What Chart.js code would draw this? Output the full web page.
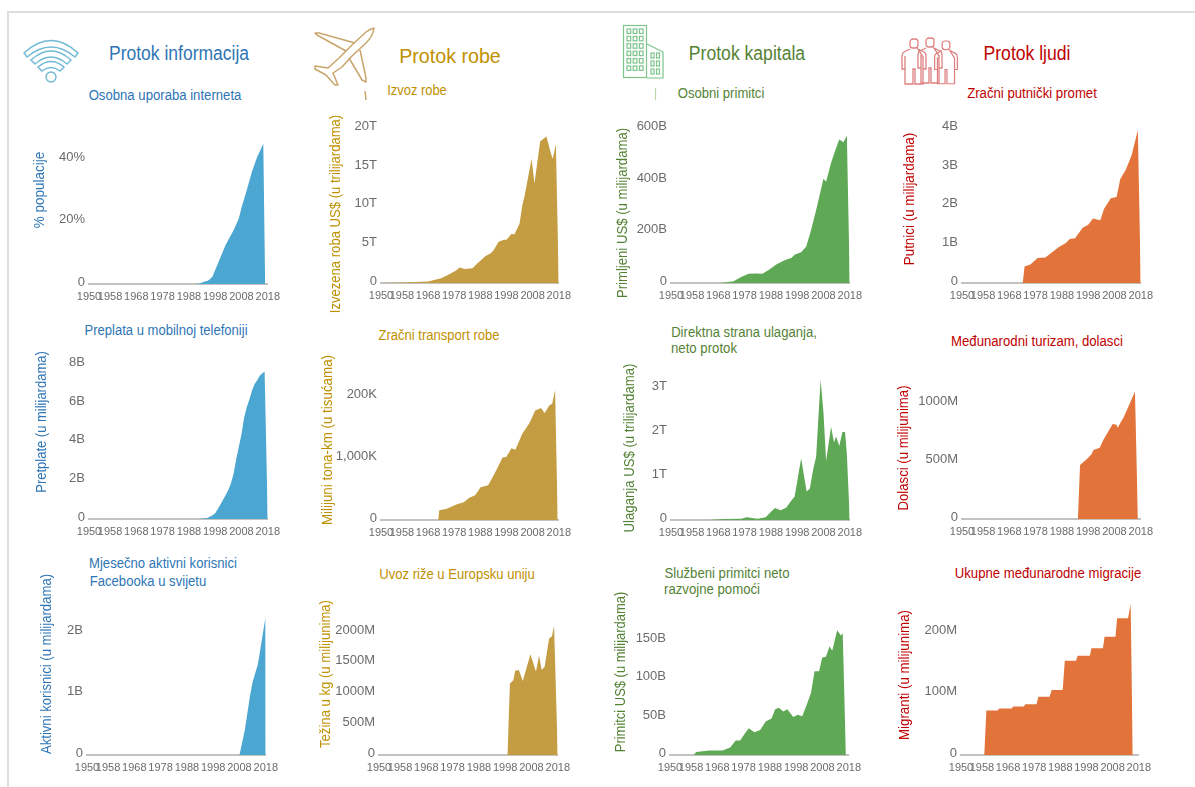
<!DOCTYPE html>
<html>
<head>
<meta charset="utf-8">
<script src="https://cdn.jsdelivr.net/npm/chart.js@4"></script>
<style>
  html, body { margin: 0; padding: 0; background: #fff; }
  #page { position: relative; width: 1195px; height: 787px; overflow: hidden; }
  #page canvas { position: absolute; }
  #frame { position: absolute; left: 7px; top: 11px; width: 1195px; height: 800px; border: 2px solid #dedede; box-sizing: border-box; }
  #icons { position: absolute; left: 0; top: 0; }
  .lbl { position: absolute; white-space: nowrap; font-family: "Liberation Sans", sans-serif; line-height: 1; }
</style>
</head>
<body>
<div id="page">
  <div id="frame"></div>
  <svg id="icons" width="1195" height="787" fill="none"></svg>
</div>
<script>
// === DATA ===
const xTickYears = [1950, 1958, 1968, 1978, 1988, 1998, 2008, 2018];

const internetYears = [1950, 1990, 1992, 1994, 1995, 1996, 1997, 1998, 2000, 2002, 2004, 2005, 2007, 2008, 2010, 2012, 2014, 2015, 2016.3, 2017];
const internetValues = [0, 0, 0.2, 0.8, 1, 1.5, 2.4, 4.5, 8.5, 12.6, 15.7, 17.2, 21, 24.4, 30, 36, 40.7, 42.5, 45, 0];
const internetTicks = [0, 20, 40];
const internetLabels = ["0", "20%", "40%"];

const mobileYears = [1950, 1992, 1995, 1997, 1998, 2000, 2002, 2003, 2004, 2005, 2006, 2007, 2008, 2009, 2010, 2011, 2012, 2013, 2014, 2015, 2016.8, 2018];
const mobileValues = [0, 0, 0.05, 0.2, 0.3, 0.75, 1.25, 1.5, 1.85, 2.35, 3.1, 3.75, 4.4, 5.25, 5.8, 6.2, 6.65, 7, 7.2, 7.45, 7.65, 0];
const mobileTicks = [0, 2, 4, 6, 8];
const mobileLabels = ["0", "2B", "4B", "6B", "8B"];

const facebookYears = [1950, 2008, 2010, 2012, 2013, 2015, 2016, 2017.9, 2018];
const facebookValues = [0, 0, 0.4, 0.96, 1.19, 1.48, 1.74, 2.25, 0];
const facebookTicks = [0, 1, 2];
const facebookLabels = ["0", "1B", "2B"];

const exportYears = [1950, 1958, 1968, 1973, 1975, 1977, 1979, 1980, 1982, 1985, 1987, 1988, 1990, 1992, 1993, 1995, 1997, 1998, 2000, 2001, 2003, 2004, 2005, 2007.6, 2008.7, 2010.9, 2013.3, 2015, 2015.7, 2016.9, 2018];
const exportValues = [0, 0.05, 0.2, 0.6, 0.95, 1.3, 1.7, 2, 1.8, 1.9, 2.6, 2.9, 3.5, 3.85, 4.2, 5.35, 5.6, 5.6, 6.4, 6.3, 7.7, 10, 11.4, 16.1, 12.9, 18.4, 19, 16.8, 16.1, 18, 0];
const exportTicks = [0, 5, 10, 15, 20];
const exportLabels = ["0", "5T", "10T", "15T", "20T"];

const freightYears = [1950, 1971.9, 1972.3, 1975.2, 1978.8, 1981.7, 1983.8, 1986, 1988.1, 1991, 1993.5, 1996.5, 1997.9, 1999.9, 2001.4, 2004, 2006.8, 2009, 2011.2, 2012.6, 2014.3, 2015.5, 2016.6, 2017.6];
const freightValues = [0, 0, 157, 183, 249, 289, 360, 401, 528, 563, 756, 1010, 1020, 1162, 1137, 1390, 1568, 1771, 1812, 1731, 1848, 1883, 2101, 0];
const freightTicks = [0, 1000, 2000];
const freightLabels = ["0", "1,000K", "200K"];

const riceYears = [1950, 1998.9, 1999.8, 2001.1, 2001.8, 2003.2, 2004.7, 2007.6, 2009.7, 2010.9, 2011.9, 2013, 2014.7, 2015.8, 2016.6, 2018];
const riceValues = [0, 0, 1164, 1215, 1369, 1385, 1205, 1641, 1359, 1615, 1385, 1436, 1897, 1933, 2103, 0];
const riceTicks = [0, 500, 1000, 1500, 2000];
const riceLabels = ["0", "500M", "1000M", "1500M", "2000M"];

const remitYears = [1950, 1968, 1970.3, 1973.8, 1976.7, 1979.5, 1982.4, 1984.8, 1987.4, 1990.2, 1993, 1995.9, 1997, 1999.5, 2001.4, 2003, 2005.2, 2006.6, 2008, 2009, 2010.9, 2012.3, 2014, 2015.6, 2016.9, 2018];
const remitValues = [0, 0, 2, 7, 23, 36, 37, 36, 53, 73, 88, 98, 110, 120, 141, 196, 283, 344, 406, 394, 468, 511, 558, 548, 573, 0];
const remitTicks = [0, 200, 400, 600];
const remitLabels = ["0", "200B", "400B", "600B"];

const fdiYears = [1950, 1964.5, 1970, 1976.7, 1978.8, 1983, 1986, 1989.5, 1991.7, 1993.8, 1996, 1997, 1999.5, 2001.6, 2002.8, 2004.2, 2005.2, 2006.9, 2008, 2009, 2010.9, 2012, 2012.8, 2014, 2015.2, 2016.2, 2016.9, 2018];
const fdiValues = [0, 0, 0.02, 0.03, 0.06, 0.03, 0.065, 0.27, 0.22, 0.28, 0.46, 0.53, 1.4, 0.65, 0.71, 1.18, 1.43, 3.19, 2.44, 1.34, 2.12, 1.76, 1.9, 1.68, 2, 2, 1.5, 0];
const fdiTicks = [0, 1, 2, 3];
const fdiLabels = ["0", "1T", "2T", "3T"];

const aidYears = [1950, 1959, 1960, 1965, 1970, 1972.9, 1975, 1976.7, 1978.6, 1980, 1982.1, 1984.3, 1986.4, 1988.6, 1990, 1991.4, 1993.1, 1994.6, 1996.9, 1998.6, 2000.3, 2002.1, 2003.6, 2005, 2006.7, 2007.9, 2009.3, 2010.7, 2011.7, 2013.6, 2015, 2015.7, 2016.9];
const aidValues = [0, 0, 4, 6, 6, 10, 19, 19, 29, 35, 30, 33, 44, 48, 60, 62, 57, 60, 50, 53, 51, 67, 81, 110, 110, 128, 129, 143, 137, 164, 157, 160, 0];
const aidTicks = [0, 50, 100, 150];
const aidLabels = ["0", "50B", "100B", "150B"];

const airYears = [1950, 1973.1, 1973.8, 1976, 1978.8, 1981.7, 1983.8, 1986.7, 1989.5, 1991, 1993, 1995.9, 1998, 1999.8, 2002.6, 2004, 2006.6, 2008.8, 2010.2, 2012.3, 2014.5, 2016.9, 2018];
const airValues = [0, 0, 0.43, 0.48, 0.65, 0.66, 0.77, 0.93, 1.04, 1.14, 1.16, 1.43, 1.51, 1.67, 1.63, 1.92, 2.2, 2.23, 2.7, 2.94, 3.31, 3.97, 0];
const airTicks = [0, 1, 2, 3, 4];
const airLabels = ["0", "1B", "2B", "3B", "4B"];

const tourismYears = [1950, 1994.1, 1994.9, 1997.4, 1999.2, 2000, 2002.4, 2003.8, 2007.3, 2008.8, 2009.2, 2011.6, 2015.8, 2016.9];
const tourismValues = [0, 0, 468, 518, 559, 600, 619, 688, 825, 819, 792, 888, 1107, 0];
const tourismTicks = [0, 500, 1000];
const tourismLabels = ["0", "500M", "1000M"];

const migrationYears = [1950, 1958.9, 1959.7, 1964, 1964.6, 1969.3, 1970, 1974, 1974.6, 1978.9, 1979.6, 1983.9, 1984.7, 1988.9, 1989.7, 1994, 1994.6, 1999.3, 1999.9, 2004.3, 2004.9, 2009.1, 2009.7, 2013.9, 2014.9, 2015.7];
const migrationValues = [0, 0, 72.5, 72.5, 76, 76, 79, 79, 83, 83, 95, 95, 106, 106, 154, 154, 162, 162, 174, 174, 193, 193, 223, 223, 246, 0];
const migrationTicks = [0, 100, 200];
const migrationLabels = ["0", "100M", "200M"];

// === COLOURS ===
const BLUE = "#2e75b6", GOLD = "#bf9000", GREEN = "#548235", RED = "#c00000";
const blueFill = "#4ba6d1", goldFill = "#c49c42", greenFill = "#5fa855", orangeFill = "#e2743b";

// === PANELS (left/right = pixel of 1950/2018, base = pixel of zero, unit = pixels per tick unit) ===
const panels = [
  { years: internetYears, values: internetValues, ticks: internetTicks, labels: internetLabels, fill: blueFill, left: 88.5, right: 269.5, base: 283, unit: 3.27, max: 50 },
  { years: mobileYears, values: mobileValues, ticks: mobileTicks, labels: mobileLabels, fill: blueFill, left: 89, right: 270, base: 519.5, unit: 20.3, max: 8 },
  { years: facebookYears, values: facebookValues, ticks: facebookTicks, labels: facebookLabels, fill: blueFill, left: 87, right: 268, base: 755, unit: 64.5, max: 2.4 },
  { years: exportYears, values: exportValues, ticks: exportTicks, labels: exportLabels, fill: goldFill, left: 381, right: 561, base: 283, unit: 8.12, max: 20 },
  { years: freightYears, values: freightValues, ticks: freightTicks, labels: freightLabels, fill: goldFill, left: 381, right: 561, base: 519.5, unit: 0.065, max: 2300 },
  { years: riceYears, values: riceValues, ticks: riceTicks, labels: riceLabels, fill: goldFill, left: 379, right: 560, base: 755, unit: 0.0648, max: 2200 },
  { years: remitYears, values: remitValues, ticks: remitTicks, labels: remitLabels, fill: greenFill, left: 671, right: 852, base: 283, unit: 0.27, max: 600 },
  { years: fdiYears, values: fdiValues, ticks: fdiTicks, labels: fdiLabels, fill: greenFill, left: 671, right: 852, base: 519.5, unit: 46.3, max: 3.3 },
  { years: aidYears, values: aidValues, ticks: aidTicks, labels: aidLabels, fill: greenFill, left: 670, right: 850.5, base: 755, unit: 0.804, max: 175 },
  { years: airYears, values: airValues, ticks: airTicks, labels: airLabels, fill: orangeFill, left: 961.5, right: 1142.5, base: 283, unit: 40.6, max: 4 },
  { years: tourismYears, values: tourismValues, ticks: tourismTicks, labels: tourismLabels, fill: orangeFill, left: 961.5, right: 1142.5, base: 519.5, unit: 0.122, max: 1200 },
  { years: migrationYears, values: migrationValues, ticks: migrationTicks, labels: migrationLabels, fill: orangeFill, left: 960.5, right: 1140.5, base: 755, unit: 0.644, max: 250 }
];

const GUTTER = 48, FOOT = 26, TOP_PAD = 4, RIGHT_PAD = 16;
const page = document.getElementById("page");

panels.forEach(p => {
  const plotW = p.right - p.left;
  const plotH = p.max * p.unit;
  const canvas = document.createElement("canvas");
  canvas.width = Math.round(GUTTER + plotW + RIGHT_PAD);
  canvas.height = Math.round(TOP_PAD + plotH + FOOT);
  canvas.style.left = (p.left - GUTTER) + "px";
  canvas.style.top = (p.base - plotH - TOP_PAD) + "px";
  page.appendChild(canvas);

  new Chart(canvas, {
    type: "line",
    data: {
      datasets: [{
        data: p.years.map((y, i) => ({ x: y, y: p.values[i] })),
        backgroundColor: p.fill,
        borderWidth: 0,
        pointRadius: 0,
        fill: "origin",
        tension: 0
      }]
    },
    options: {
      responsive: false,
      animation: false,
      layout: { padding: { top: TOP_PAD, right: RIGHT_PAD, left: 0, bottom: 0 } },
      plugins: { legend: { display: false }, tooltip: { enabled: false } },
      scales: {
        x: {
          type: "linear",
          min: 1950,
          max: 2018,
          grid: { display: false, drawTicks: false },
          border: { color: "#c4c2bf", width: 2 },
          afterBuildTicks: axis => { axis.ticks = xTickYears.map(v => ({ value: v })); },
          afterFit: axis => { axis.height = FOOT; },
          ticks: {
            autoSkip: false,
            maxRotation: 0,
            padding: 6,
            color: "#6e6a6a",
            font: { family: "'Liberation Sans Narrow', 'Liberation Sans'", size: 11 },
            callback: v => String(v)
          }
        },
        y: {
          min: 0,
          max: p.max,
          grid: { display: false, drawTicks: false },
          border: { display: false },
          afterBuildTicks: axis => { axis.ticks = p.ticks.map(v => ({ value: v })); },
          afterFit: axis => { axis.width = GUTTER; },
          ticks: {
            padding: 4,
            labelOffset: -2,
            color: "#6e6a6a",
            font: { family: "'Liberation Sans Narrow', 'Liberation Sans'", size: 13 },
            callback: v => p.labels[p.ticks.indexOf(v)]
          }
        }
      }
    }
  });
});

// === TEXT: [text, left, centre y, width, size, colour] ===
const headings = [
  ["Protok informacija", 109, 53, 140, 20, BLUE],
  ["Protok robe", 399, 55, 102, 21, GOLD],
  ["Protok kapitala", 689, 53, 116, 20, GREEN],
  ["Protok ljudi", 983, 53, 87, 20, RED],
  ["Osobna uporaba interneta", 88, 95, 153, 14, BLUE],
  ["Izvoz robe", 387, 90, 60, 14, GOLD],
  ["Osobni primitci", 677, 93, 87, 14, GREEN],
  ["Zračni putnički promet", 967, 93, 130, 14, RED],
  ["Preplata u mobilnoj telefoniji", 84, 330, 163, 14, BLUE],
  ["Zračni transport robe", 378, 335, 121, 14, GOLD],
  ["Direktna strana ulaganja,", 671, 332, 146, 14, GREEN],
  ["neto protok", 671, 348, 66, 14, GREEN],
  ["Međunarodni turizam, dolasci", 951, 341, 172, 14, RED],
  ["Mjesečno aktivni korisnici", 89, 563, 148, 14, BLUE],
  ["Facebooka u svijetu", 89, 581, 117, 14, BLUE],
  ["Uvoz riže u Europsku uniju", 379, 574, 156, 14, GOLD],
  ["Službeni primitci neto", 664, 573, 125, 14, GREEN],
  ["razvojne pomoći", 664, 589, 96, 14, GREEN],
  ["Ukupne međunarodne migracije", 955, 573, 186, 14, RED]
];

// rotated axis titles: [text, centre x, top y, bottom y, colour]
const axisTitles = [
  ["% populacije", 39, 152, 228, BLUE],
  ["Pretplate (u milijardama)", 41, 351, 493, BLUE],
  ["Aktivni korisnici (u milijardama)", 46, 574, 754, BLUE],
  ["Izvezena roba US$ (u trilijardama)", 335, 115, 313, GOLD],
  ["Milijuni tona-km (u tisućama)", 327, 355, 525, GOLD],
  ["Težina u kg (u milijunima)", 325, 600, 748, GOLD],
  ["Primljeni US$ (u milijardama)", 622, 128, 298, GREEN],
  ["Ulaganja US$ (u trilijardama)", 629, 363, 532, GREEN],
  ["Primitci US$ (u milijardama)", 620, 592, 752, GREEN],
  ["Putnici (u milijardama)", 909, 133, 265, RED],
  ["Dolasci (u milijunima)", 903, 385, 510, RED],
  ["Migranti (u milijunima)", 904, 610, 740, RED]
];

function addLabel(text, cx, cy, length, size, color, rotate) {
  const el = document.createElement("span");
  el.className = "lbl";
  el.textContent = text;
  el.style.fontSize = size + "px";
  el.style.color = color;
  el.style.left = cx + "px";
  el.style.top = cy + "px";
  page.appendChild(el);
  // squeeze the text to the width it has in the picture
  const s = length / el.offsetWidth;
  el.style.transform = "translate(-50%,-50%) rotate(" + rotate + "deg) scaleX(" + s + ")";
}

headings.forEach(h => addLabel(h[0], h[1] + h[3] / 2, h[2], h[3], h[4], h[5], 0));
axisTitles.forEach(t => addLabel(t[0], t[1], (t[2] + t[3]) / 2, t[3] - t[2], 14, t[4], -90));

// === ICONS ===
function building(x, y, cols, rows, w, h) {
  let s = "";
  for (let r = 0; r < rows; r++) {
    for (let c = 0; c < cols; c++) {
      s += `<rect x="${x + c * w}" y="${y + r * h}" width="${w - 2.5}" height="${h - 3}"/>`;
    }
  }
  return s;
}

function person(x, y, s) {
  return `<g transform="translate(${x},${y}) scale(${s})">
    <rect x="-4" y="0" width="8" height="9" rx="3"/>
    <path d="M-4 10 L-10 13 Q-12 14 -12 17 L-12 30 L-9 30 L-9 18 M-9 17 L-9 45 L-1 45 L-1 30 L1 30 L1 45 L9 45 L9 17 M9 18 L9 30 L12 30 L12 17 Q12 14 10 13 L4 10 Z"/>
  </g>`;
}

document.getElementById("icons").innerHTML = `
  <g stroke="#6fb9d6" stroke-width="1.4">
    <path d="M24 53 Q51 28 78 53 L75 57 Q51 37 27 57 Z"/>
    <path d="M31 60 Q51 42 71 60 L67 64 Q51 50 35 64 Z"/>
    <path d="M38 67 Q51 56 64 67 L60 71 Q51 64 42 71 Z"/>
    <circle cx="51" cy="77" r="5"/>
  </g>
  <g stroke="#c9a56c" stroke-width="1.5" stroke-linejoin="round">
    <path d="M374 28 Q373 36 366 43 L352 56 L342 67 L333 73 L338 85 L335 85 L326 75 L315 69 L315 66 L328 68 L339 58 L352 45 L366 32 Q370 29 374 28 Z"/>
    <path d="M346 51 L317 35 L315 33 L319 33 L355 43"/>
    <path d="M349 58 L362 80 L366 82 L366 78 L360 50"/>
    <path d="M365 91 L366 100"/>
  </g>
  <g stroke="#7cc48a" stroke-width="1.2">
    <rect x="623.5" y="25.5" width="23" height="52"/>
    <path d="M647 44 L663 52 L663 78 L647 78"/>
    ${building(627, 29, 3, 6, 6.2, 7.4)}
    ${building(651, 53, 2, 3, 5.5, 8)}
    <path d="M655.5 88 L655.5 100" stroke="#b9d3aa"/>
  </g>
  <g stroke="#de7f80" stroke-width="1.3">
    ${person(914, 39, 1)}
    ${person(930, 38, 1)}
    ${person(946, 41, 0.95)}
  </g>`;
</script>
</body>
</html>
